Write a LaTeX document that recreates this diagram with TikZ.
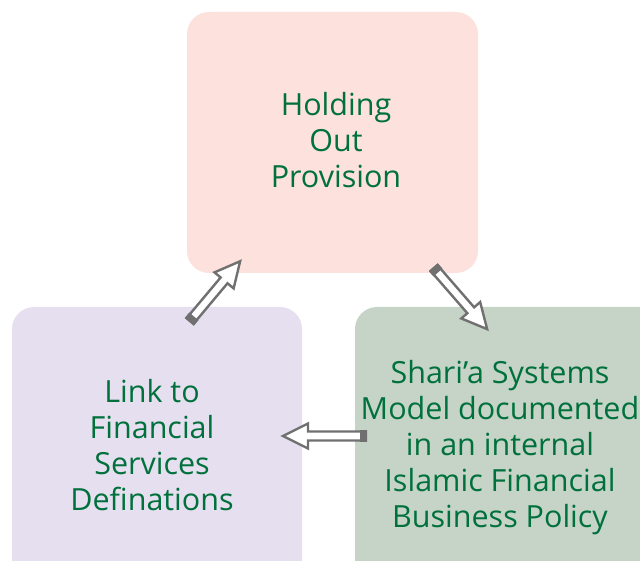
\documentclass[tikz,border=0pt]{standalone}
\usepackage{fontspec}
\setmainfont{Open Sans}
\definecolor{toppink}{HTML}{FCE1DC}
\definecolor{leftlav}{HTML}{E6DFEF}
\definecolor{rightgrn}{HTML}{C5D4C6}
\definecolor{txtgreen}{HTML}{00703C}
\definecolor{arrgray}{HTML}{707070}
\begin{document}
\begin{tikzpicture}[x=1pt,y=1pt,
  boxfill/.style={rounded corners=22pt},
  boxtext/.style={text=txtgreen,font=\fontsize{30.5}{36}\selectfont,align=center,inner sep=0pt},
  arrline/.style={draw=arrgray,line width=2.4pt,fill=white,line join=miter},
  capfill/.style={fill=arrgray}]
\useasboundingbox (0,0) rectangle (640,560);
\clip (0,0) rectangle (640,560);
% boxes
\fill[toppink,boxfill] (187,287) rectangle (478,548);
\fill[leftlav,boxfill] (12,-40) rectangle (302,253);
\fill[rightgrn,boxfill] (355,-40) rectangle (680,253);
% texts
\node[boxtext] (top) at (336,420) {Holding\\Out\\Provision};
\node[boxtext] (left) at (152,115) {Link to\\Financial\\Services\\Definations};
\node[boxtext] (right) at (500,112) {Shari’a Systems\\Model documented\\in an internal\\Islamic Financial\\Business Policy};
% arrow anchors
\coordinate (a1) at (190,239);
\coordinate (a2) at (434,292);
\coordinate (a3) at (366,124);
\newcommand\blockarrow[3]{%
  \begin{scope}[shift={(#1)},rotate=#2]
    \draw[arrline] (0,-4.5) -- (#3-25,-4.5) -- (#3-25,-12.5) -- (#3,0) -- (#3-25,12.5) -- (#3-25,4.5) -- (0,4.5) -- cycle;
    \fill[capfill] (-1,-6) rectangle (6,6);
  \end{scope}}
\blockarrow{a1}{50}{78}
\blockarrow{a2}{-49}{81}
\blockarrow{a3}{180}{83}
\end{tikzpicture}
\end{document}
